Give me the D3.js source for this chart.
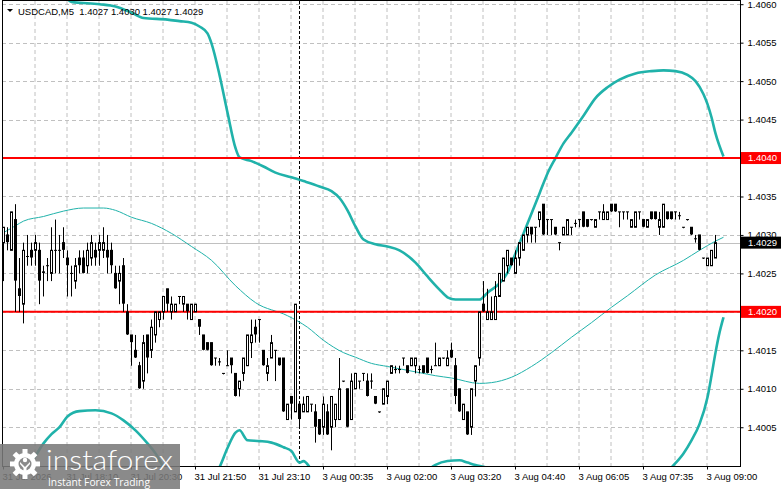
<!DOCTYPE html>
<html>
<head>
<meta charset="utf-8">
<script src="https://cdn.jsdelivr.net/npm/d3@7"></script>
<style>
	html, body { margin: 0; padding: 0; background: #fff; }
	svg { display: block; font-family: "Liberation Sans", Arial, sans-serif; }
	.axis text { font-size: 9.5px; fill: #000; }
	.axis line { stroke: #000; }
</style>
</head>
<body>
<svg width="781" height="489"></svg>
<script>
(function () {

// USDCAD M5 bars, [open, high, low, close], oldest first
var candles = [
	[1.4029,1.4031,1.4024,1.4031],[1.4030,1.4031,1.4028,1.4029],[1.4028,1.4033,1.4028,1.4033],[1.4032,1.4034,1.4020,1.4024],
	[1.4023,1.4027,1.4020,1.4022],[1.4021,1.4029,1.40185,1.4028],[1.40272,1.4030,1.4026,1.40272],[1.4028,1.4029,1.4026,1.4027],
	[1.4028,1.4030,1.4026,1.4029],[1.4028,1.4029,1.4021,1.4024],[1.40252,1.4026,1.4022,1.4025],[1.4026,1.4027,1.4024,1.4026],
	[1.4025,1.4031,1.4024,1.4028],[1.4028,1.4032,1.4025,1.4028],[1.4028,1.4030,1.4025,1.4028],[1.4029,1.4031,1.4027,1.4028],
	[1.4027,1.4028,1.4022,1.4026],[1.4025,1.4026,1.4022,1.4025],[1.4024,1.4027,1.4023,1.4026],[1.4027,1.4028,1.4025,1.4026],
	[1.4027,1.4028,1.4025,1.4025],[1.4026,1.4029,1.4025,1.4028],[1.4027,1.4030,1.4026,1.4029],[1.4028,1.4029,1.4026,1.4027],
	[1.4028,1.4030,1.4026,1.4029],[1.4028,1.4031,1.4027,1.4029],[1.4028,1.4030,1.4025,1.4027],[1.4028,1.4029,1.4025,1.4026],
	[1.4025,1.4026,1.4023,1.4023],[1.4024,1.4026,1.4021,1.4025],[1.4026,1.4027,1.4020,1.4021],[1.4020,1.4021,1.4017,1.4017],
	[1.4017,1.4017,1.4013,1.4016],[1.4015,1.4017,1.4014,1.4014],[1.4013,1.40135,1.4010,1.4010],[1.4011,1.4017,1.4010,1.4016],
	[1.4017,1.4017,1.4012,1.4014],[1.4015,1.4019,1.4014,1.4018],[1.4017,1.4020,1.4016,1.4020],[1.4019,1.4020,1.4018,1.4020],
	[1.4020,1.4022,1.4019,1.4022],[1.4023,1.4023,1.4020,1.4021],[1.4020,1.4022,1.4019,1.4021],[1.4020,1.4021,1.4020,1.4021],
	[1.4022,1.4022,1.4021,1.4022],[1.4021,1.4022,1.4020,1.4022],[1.4021,1.4021,1.4019,1.4020],[1.4019,1.4021,1.4019,1.4021],
	[1.4020,1.4021,1.4020,1.4021],[1.4019,1.4019,1.4017,1.4018],[1.4017,1.4017,1.4015,1.4015],[1.4016,1.4016,1.4015,1.4015],
	[1.4016,1.4016,1.4013,1.4013],[1.4014,1.4014,1.4013,1.4014],[1.40135,1.4014,1.4013,1.40135],[1.4012,1.4012,1.4012,1.4012],
	[1.4013,1.4015,1.4013,1.4013],[1.4014,1.4014,1.4012,1.4013],[1.4012,1.4012,1.4009,1.4009],[1.4010,1.4011,1.4009,1.4011],
	[1.4012,1.4014,1.4011,1.4014],[1.4013,1.4017,1.4013,1.4017],[1.4016,1.4019,1.4014,1.4017],[1.4018,1.4019,1.4016,1.4017],
	[1.4019,1.4019,1.4016,1.4019],[1.4015,1.4015,1.4013,1.4013],[1.4012,1.4014,1.4011,1.4013],[1.4014,1.4017,1.4014,1.4016],
	[1.4015,1.4015,1.4011,1.4015],[1.4014,1.4014,1.4013,1.4013],[1.4014,1.4014,1.4007,1.4007],[1.4006,1.4008,1.4006,1.4008],
	[1.4009,1.4009,1.4006,1.4008],[1.4007,1.4021,1.4007,1.4021],[1.4008,1.4008,1.4005,1.4006],[1.4007,1.4009,1.4007,1.4008],
	[1.4007,1.4009,1.4007,1.4009],[1.4008,1.4008,1.4007,1.4008],[1.4007,1.4008,1.4003,1.4005],[1.4006,1.4006,1.4004,1.4004],
	[1.4005,1.4009,1.4004,1.4008],[1.4007,1.4008,1.4004,1.4004],[1.4005,1.4009,1.4002,1.4009],[1.4006,1.4008,1.4005,1.4008],
	[1.4006,1.4014,1.4006,1.4010],[1.4011,1.4011,1.4011,1.4011],[1.4010,1.4010,1.4005,1.4005],[1.4006,1.4012,1.4006,1.4011],
	[1.4010,1.4012,1.4010,1.4012],[1.4011,1.4011,1.4010,1.4011],[1.4012,1.4012,1.4011,1.4012],[1.4011,1.4012,1.4009,1.4009],
	[1.4011,1.4012,1.4010,1.4011],[1.4009,1.4009,1.4008,1.4008],[1.4007,1.4007,1.4007,1.4007],[1.4008,1.4010,1.4008,1.4010],
	[1.4009,1.4011,1.4008,1.4011],[1.4012,1.4013,1.4012,1.4013],[1.40125,1.4013,1.4012,1.40125],[1.40125,1.4013,1.4012,1.40125],
	[1.4014,1.4014,1.4013,1.4014],[1.4013,1.4013,1.4012,1.4012],[1.4013,1.4014,1.4013,1.4014],[1.4013,1.4014,1.4012,1.4014],
	[1.40125,1.4013,1.4012,1.40125],[1.4013,1.4013,1.4012,1.4012],[1.4014,1.4014,1.4012,1.4012],[1.40125,1.4013,1.4012,1.40125],
	[1.4013,1.4016,1.4013,1.4013],[1.4013,1.4014,1.4013,1.4014],[1.4014,1.4014,1.4014,1.4014],[1.4013,1.4015,1.4013,1.4014],
	[1.4015,1.4016,1.4014,1.4014],[1.4013,1.4014,1.4008,1.4009],[1.4010,1.4010,1.4007,1.4007],[1.4006,1.4008,1.4006,1.4008],
	[1.4007,1.4007,1.4004,1.4004],[1.4005,1.4010,1.4004,1.4010],[1.4011,1.4013,1.4009,1.4013],[1.4014,1.4020,1.4013,1.4020],
	[1.4021,1.4024,1.4020,1.4020],[1.4019,1.4023,1.4019,1.4020],[1.4019,1.4022,1.4019,1.4020],[1.4019,1.4024,1.4019,1.4022],
	[1.4022,1.4025,1.4022,1.4025],[1.4024,1.4027,1.4024,1.4027],[1.4026,1.4028,1.4025,1.4028],[1.4027,1.4027,1.4026,1.4026],
	[1.4025,1.4028,1.4025,1.4027],[1.4027,1.4029,1.4026,1.4029],[1.4028,1.4030,1.4028,1.4030],[1.4030,1.4031,1.4029,1.4031],
	[1.4031,1.4031,1.4029,1.4030],[1.4031,1.4031,1.4029,1.4031],[1.4032,1.4033,1.4031,1.4033],[1.4034,1.4034,1.4030,1.4030],
	[1.4032,1.4032,1.4030,1.4032],[1.4032,1.4032,1.4030,1.4032],[1.4031,1.4031,1.4030,1.4030],[1.4029,1.4029,1.4028,1.4029],
	[1.4030,1.4031,1.4030,1.4031],[1.4030,1.4032,1.4030,1.4032],[1.4031,1.4031,1.4030,1.4031],[1.40315,1.4032,1.4031,1.40315],
	[1.4032,1.4032,1.4031,1.4032],[1.4033,1.4033,1.4031,1.4031],[1.4032,1.4032,1.4031,1.4031],[1.4032,1.4032,1.4032,1.4032],
	[1.4031,1.4032,1.4031,1.4032],[1.4033,1.4033,1.4032,1.4033],[1.4032,1.4034,1.4032,1.4033],[1.4032,1.4033,1.4032,1.4033],
	[1.4034,1.4034,1.4033,1.4033],[1.4034,1.4034,1.4033,1.4033],[1.4033,1.4033,1.4031,1.4033],[1.4033,1.4033,1.4032,1.4033],
	[1.4033,1.4033,1.4032,1.4033],[1.4031,1.4032,1.4031,1.4032],[1.4031,1.4033,1.4031,1.4033],[1.4033,1.4033,1.4032,1.4033],
	[1.4032,1.4032,1.4031,1.4031],[1.4031,1.4032,1.4031,1.4032],[1.4033,1.4033,1.4032,1.4032],[1.4033,1.4033,1.4032,1.4032],
	[1.4031,1.4033,1.4030,1.4032],[1.4031,1.4034,1.4031,1.4034],[1.4033,1.4033,1.4032,1.4032],[1.4033,1.4033,1.4032,1.4032],
	[1.4033,1.4033,1.4032,1.4033],[1.40325,1.4033,1.4032,1.40325],[1.4031,1.4031,1.4031,1.4031],[1.4032,1.4032,1.4032,1.4032],
	[1.4031,1.4031,1.4030,1.4030],[1.40295,1.4030,1.4029,1.40295],[1.4030,1.4030,1.4028,1.4028],[1.4027,1.4027,1.4027,1.4027],
	[1.4026,1.4027,1.4026,1.4027],[1.4026,1.4028,1.4026,1.4028],[1.4027,1.4030,1.4027,1.4029]
];

// Bollinger bands, [bar index, price]
var upperBand = [
	[0,1.4066],[5,1.4065],[10,1.4063],[15,1.40612],[17,1.40603],[24,1.40600],[28,1.40597],[32,1.40589],
	[35,1.40582],[41,1.40580],[44,1.40578],[47,1.40576],[49,1.40571],[51,1.40562],[52,1.40549],[54,1.40508],
	[56,1.40459],[58,1.40413],[59,1.40401],[62,1.40396],[65,1.40389],[68,1.40381],[72,1.40375],[75,1.40370],
	[79,1.40363],[82,1.40357],[84,1.40348],[86,1.40332],[88,1.40311],[90,1.40294],[93,1.40288],[96,1.40285],
	[99,1.40280],[103,1.40264],[106,1.40246],[109,1.40229],[111,1.40219],[113,1.40216],[119,1.40216],[121,1.40225],
	[124,1.40237],[126,1.40251],[128,1.40276],[130,1.40302],[132,1.40328],[134,1.40354],[136,1.40380],[138,1.40400],
	[140,1.40419],[142,1.40433],[145,1.40455],[148,1.40478],[151,1.40492],[154,1.40502],[158,1.40510],[162,1.40513],
	[165,1.40514],[168,1.40513],[171,1.40508],[173,1.40500],[175,1.40483],[176,1.40470],[177,1.40453],[178,1.40432],
	[180,1.40402]
];
var middleBand = [
	[0,1.40303],[3,1.40312],[5,1.40318],[10,1.40324],[15,1.40331],[20,1.40335],[25,1.40335],[28,1.40332],
	[32,1.40323],[37,1.40315],[42,1.40302],[47,1.40285],[52,1.40267],[58,1.40234],[63,1.40212],[71,1.40195],
	[76,1.40180],[80,1.40163],[85,1.40147],[88,1.40141],[92,1.40133],[96,1.40129],[104,1.40121],[108,1.40117],
	[112,1.40114],[119,1.40107],[122,1.40108],[127,1.40115],[132,1.40129],[137,1.40147],[142,1.40167],[147,1.40186],
	[152,1.40206],[156,1.40221],[163,1.40248],[170,1.40267],[174,1.40280],[178,1.40292],[180,1.40297]
];
var lowerBand = [
	[0,1.39955],[7,1.40004],[10,1.40029],[12,1.40041],[14,1.40050],[16,1.40064],[19,1.40071],[23,1.40072],
	[27,1.40068],[30,1.40059],[33,1.40046],[36,1.40029],[38,1.40016],[40,1.39998],[43,1.39975],[48,1.39962],
	[52,1.39981],[54,1.39998],[56,1.40023],[58,1.40043],[59,1.40046],[61,1.40033],[64,1.40032],[67,1.40030],
	[70,1.40024],[72,1.40019],[74,1.40004],[75,1.40006],[77,1.39995],[82,1.39968],[92,1.39955],[102,1.39975],
	[106,1.39994],[108,1.40001],[111,1.40006],[114,1.40007],[116,1.40004],[118,1.40001],[121,1.39997],[126,1.39981],
	[137,1.39955],[152,1.39949],[162,1.39975],[167,1.39998],[170,1.40016],[172,1.40033],[174,1.40054],[176,1.40089],
	[177,1.40117],[178,1.40147],[179,1.40173],[180,1.40193]
];

var priceTicks = [1.4005, 1.4010, 1.4015, 1.4020, 1.4025, 1.4030, 1.4035, 1.4040, 1.4045, 1.4050, 1.4055, 1.4060];
var levels = [1.4040, 1.4020];
var bidPrice = 1.4029;
var labelBars = [0, 16, 32, 48, 64, 80, 96, 112, 128, 144, 160, 176];
var timeLabels = ["31 Jul 2026", "31 Jul 18:10", "31 Jul 20:30", "31 Jul 21:50", "31 Jul 23:10", "3 Aug 00:35",
	"3 Aug 02:00", "3 Aug 03:20", "3 Aug 04:40", "3 Aug 06:05", "3 Aug 07:35", "3 Aug 09:00"];
var separatorBar = 74;
var title = "USDCAD,M5  1.4027 1.4030 1.4027 1.4029";

var plot = { left: 2, top: 1, right: 741, bottom: 467 };
var teal = "#20b2aa";

var svg = d3.select("svg");

var x = d3.scaleLinear().domain([0, 178]).range([3.5, 715.5]);
var y = d3.scaleLinear().domain([1.4060, 1.4000]).range([4.2, 465.7]);

svg.append("clipPath").attr("id", "plotClip")
	.append("rect")
		.attr("x", plot.left).attr("y", plot.top)
		.attr("width", plot.right - plot.left).attr("height", plot.bottom - plot.top);

// Grid (dashed, light grey)
var grid = svg.append("g").attr("clip-path", "url(#plotClip)");
grid.selectAll("line.h").data(priceTicks).enter().append("line")
	.attr("class", "h")
	.attr("x1", plot.left).attr("x2", plot.right)
	.attr("y1", function (d) { return Math.round(y(d)) + 0.5; })
	.attr("y2", function (d) { return Math.round(y(d)) + 0.5; })
	.attr("stroke", "#c0c0c0").attr("stroke-dasharray", "4,3");
grid.selectAll("line.v").data(d3.range(8, 179, 8)).enter().append("line")
	.attr("class", "v")
	.attr("x1", function (d) { return x(d) - 0.5; }).attr("x2", function (d) { return x(d) - 0.5; })
	.attr("y1", plot.top).attr("y2", plot.bottom)
	.attr("stroke", "#c0c0c0").attr("stroke-dasharray", "4,3");

// Period separator
grid.append("line")
	.attr("x1", x(separatorBar)).attr("x2", x(separatorBar))
	.attr("y1", plot.top).attr("y2", plot.bottom)
	.attr("stroke", "#000").attr("stroke-dasharray", "3,2");

// Bid line
grid.append("line")
	.attr("x1", plot.left).attr("x2", plot.right)
	.attr("y1", Math.round(y(bidPrice)) + 0.5).attr("y2", Math.round(y(bidPrice)) + 0.5)
	.attr("stroke", "#c0c0c0");

// Bollinger bands
var bandLine = d3.line()
	.x(function (d) { return x(d[0]); })
	.y(function (d) { return y(d[1]); })
	.curve(d3.curveMonotoneX);

var bands = svg.append("g").attr("clip-path", "url(#plotClip)").attr("fill", "none").attr("stroke", teal);
bands.append("path").attr("d", bandLine(middleBand)).attr("stroke-width", 1);
bands.append("path").attr("d", bandLine(upperBand)).attr("stroke-width", 2.6);
bands.append("path").attr("d", bandLine(lowerBand)).attr("stroke-width", 2.6);

// Horizontal levels
svg.append("g").selectAll("line").data(levels).enter().append("line")
	.attr("x1", plot.left).attr("x2", plot.right)
	.attr("y1", function (d) { return y(d); }).attr("y2", function (d) { return y(d); })
	.attr("stroke", "#ff0000").attr("stroke-width", 2);

// Candles
var bars = svg.append("g").attr("clip-path", "url(#plotClip)")
	.selectAll("g").data(candles).enter().append("g");

bars.append("line")
	.attr("x1", function (d, i) { return x(i); }).attr("x2", function (d, i) { return x(i); })
	.attr("y1", function (d) { return y(d[1]); })
	.attr("y2", function (d) { return Math.max(y(d[2]), y(d[1]) + 1); })
	.attr("stroke", "#000");

bars.append("rect")
	.attr("x", function (d, i) { return d[3] > d[0] ? x(i) - 1 : x(i) - 1.5; })
	.attr("y", function (d) {
		var top = y(Math.max(d[0], d[3]));
		return d[3] > d[0] ? top : top - 0.5;
	})
	.attr("width", function (d) { return d[3] > d[0] ? 2 : 3; })
	.attr("height", function (d) { return Math.max(1, Math.abs(y(d[0]) - y(d[3]))); })
	.attr("fill", function (d) { return d[3] > d[0] ? "#fff" : "#000"; })
	.attr("stroke", function (d) { return d[3] > d[0] ? "#000" : "none"; });

// Frame
svg.append("rect")
	.attr("x", plot.left + 0.5).attr("y", plot.top - 0.5)
	.attr("width", plot.right - plot.left - 1).attr("height", plot.bottom - plot.top)
	.attr("fill", "none").attr("stroke", "#000");

// Price axis
var yAxis = svg.append("g").attr("class", "axis")
	.attr("transform", "translate(" + (plot.right - 0.5) + ",0)")
	.call(d3.axisRight(y).tickValues(priceTicks).tickSize(3).tickPadding(4).tickFormat(d3.format(".4f")));
yAxis.select(".domain").remove();

// Time axis
var xAxis = svg.append("g").attr("class", "axis")
	.attr("transform", "translate(0," + (plot.bottom - 0.5) + ")")
	.call(d3.axisBottom(x).tickValues(labelBars).tickSize(3)
		.tickFormat(function (d, i) { return timeLabels[i]; }));
xAxis.select(".domain").remove();
xAxis.selectAll(".tick line").attr("transform", "translate(-0.5,0)");
xAxis.selectAll(".tick text").attr("text-anchor", "start").attr("x", -1.5).attr("y", 13.5).attr("dy", 0);

// Price tags on the axis
function priceTag(value, fill) {
	var g = svg.append("g").attr("transform", "translate(" + plot.right + "," + y(value) + ")");
	g.append("rect").attr("x", 0).attr("y", -6).attr("width", 40).attr("height", 12).attr("fill", fill);
	g.append("text").attr("x", 7).attr("dy", "0.34em")
		.attr("font-size", "9.5px").attr("fill", "#fff")
		.text(d3.format(".4f")(value));
}
levels.forEach(function (l) { priceTag(l, "#ff0000"); });
priceTag(bidPrice, "#000");

// Title
svg.append("path").attr("d", "M7,9 L13,9 L10,12 Z").attr("fill", "#000");
svg.append("text").attr("x", 18).attr("y", 14.5).attr("font-size", "9.5px").attr("fill", "#000")
	.attr("xml:space", "preserve").style("white-space", "pre")
	.text(title);

// Watermark
var logo = svg.append("g");
logo.append("rect").attr("x", 0).attr("y", 444).attr("width", 180).attr("height", 45)
	.attr("fill", "#7a7a7a").attr("opacity", 0.88);
var gear = logo.append("g").attr("transform", "translate(25,464)").attr("fill", "#fff");
gear.selectAll("rect").data(d3.range(8)).enter().append("rect")
	.attr("x", -2.5).attr("y", -15).attr("width", 5).attr("height", 6)
	.attr("transform", function (d) { return "rotate(" + d * 45 + ")"; });
gear.append("circle").attr("r", 11);
gear.append("circle").attr("r", 6.5).attr("fill", "#8a8a8a");
gear.append("circle").attr("cy", -4).attr("r", 2.2);
gear.append("path").attr("d", "M-5,-2 L0,3 L5,-2 L5,0 L1.5,4 L1.5,15 L-1.5,15 L-1.5,4 L-5,0 Z");
logo.append("text").attr("x", 46).attr("y", 470)
	.attr("font-family", "Lato, 'Open Sans', sans-serif").attr("font-weight", 300)
	.attr("font-size", "27px").attr("fill", "#fff")
	.attr("textLength", 127).attr("lengthAdjust", "spacingAndGlyphs")
	.text("instaforex");
logo.append("text").attr("x", 48).attr("y", 486)
	.attr("font-family", "'Open Sans', sans-serif")
	.attr("font-size", "10.5px").attr("fill", "#fff")
	.attr("textLength", 102).attr("lengthAdjust", "spacingAndGlyphs")
	.text("Instant Forex Trading");

})();
</script>
</body>
</html>
